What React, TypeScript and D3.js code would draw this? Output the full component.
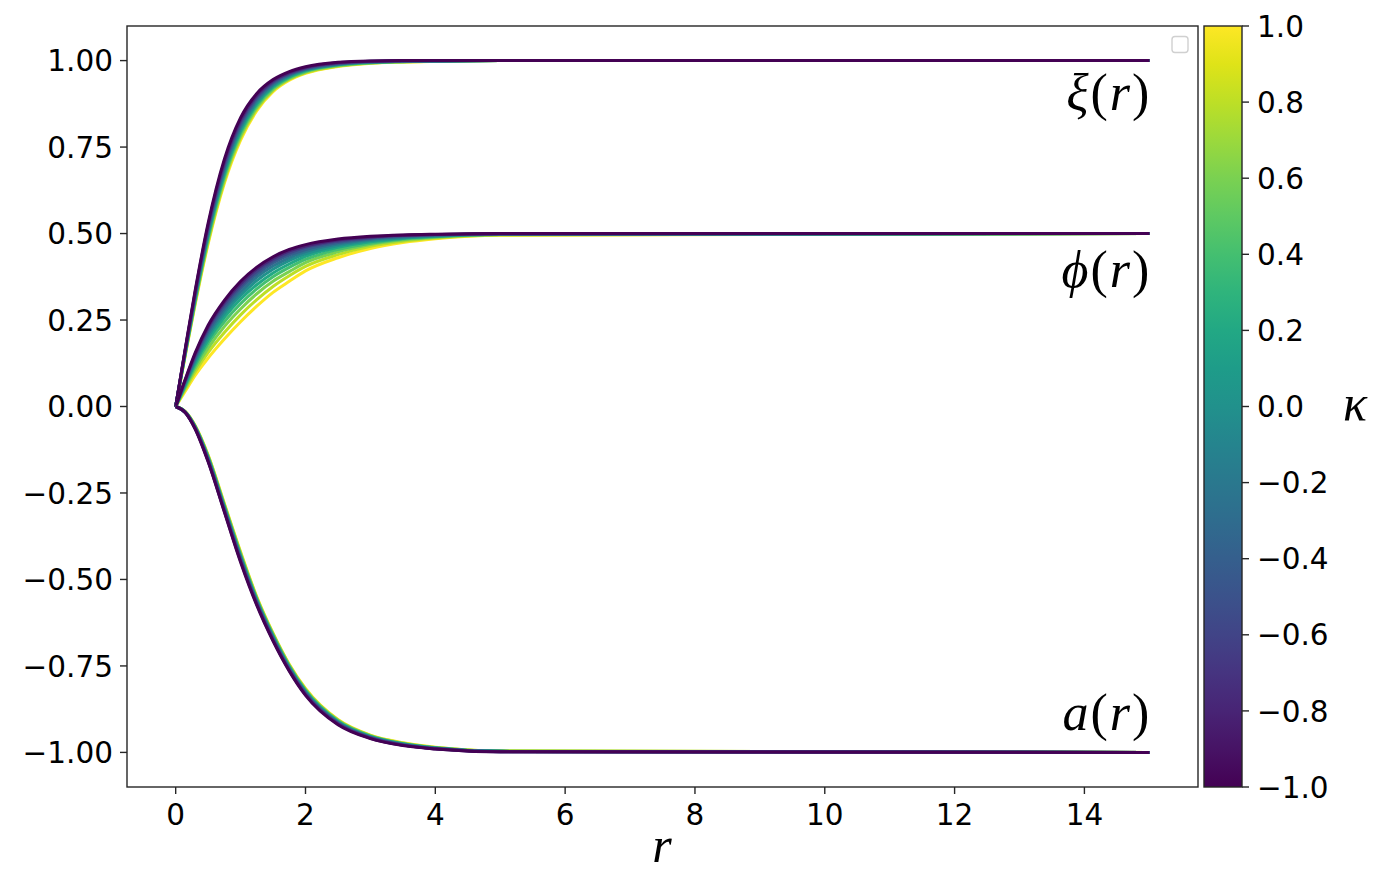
import React, { useEffect, useRef } from "react";
import * as d3 from "d3";

// sample points in r (same for every curve)
const rValues = [0, 0.15, 0.3, 0.5, 0.75, 1, 1.25, 1.5, 1.75, 2, 2.5, 3, 3.5, 4, 5, 15];

// one curve per kappa
const kappaValues = [-1, -0.8, -0.6, -0.4, -0.2, 0, 0.2, 0.4, 0.6, 0.8, 1];

// xi(r), rows follow kappaValues
const xiCurves = [
  [0, 0.17, 0.335, 0.53, 0.715, 0.835, 0.905, 0.945, 0.968, 0.982, 0.995, 0.999, 1.0, 1.0, 1, 1],
  [0, 0.168, 0.331, 0.524, 0.708, 0.829, 0.9, 0.942, 0.965, 0.98, 0.994, 0.998, 1.0, 1.0, 1, 1],
  [0, 0.166, 0.327, 0.518, 0.701, 0.822, 0.895, 0.938, 0.963, 0.978, 0.992, 0.998, 0.999, 1.0, 1, 1],
  [0, 0.164, 0.323, 0.512, 0.694, 0.816, 0.89, 0.935, 0.96, 0.976, 0.991, 0.997, 0.999, 0.999, 1, 1],
  [0, 0.162, 0.319, 0.506, 0.687, 0.809, 0.885, 0.931, 0.958, 0.974, 0.99, 0.996, 0.998, 0.999, 1, 1],
  [0, 0.16, 0.315, 0.5, 0.68, 0.803, 0.88, 0.928, 0.956, 0.973, 0.989, 0.996, 0.998, 0.999, 1, 1],
  [0, 0.158, 0.311, 0.494, 0.673, 0.796, 0.875, 0.924, 0.953, 0.971, 0.988, 0.995, 0.998, 0.999, 1, 1],
  [0, 0.156, 0.307, 0.488, 0.666, 0.79, 0.87, 0.921, 0.951, 0.969, 0.987, 0.994, 0.997, 0.999, 1, 1],
  [0, 0.154, 0.303, 0.482, 0.659, 0.783, 0.865, 0.917, 0.948, 0.967, 0.985, 0.993, 0.997, 0.998, 1, 1],
  [0, 0.152, 0.299, 0.476, 0.652, 0.777, 0.86, 0.914, 0.946, 0.965, 0.984, 0.993, 0.996, 0.998, 1, 1],
  [0, 0.15, 0.295, 0.47, 0.645, 0.77, 0.855, 0.91, 0.943, 0.963, 0.983, 0.992, 0.996, 0.998, 1, 1],
];

// phi(r)
const phiCurves = [
  [0, 0.08, 0.155, 0.235, 0.307, 0.362, 0.403, 0.433, 0.454, 0.468, 0.484, 0.492, 0.496, 0.498, 0.5, 0.5],
  [0, 0.078, 0.151, 0.23, 0.302, 0.356, 0.398, 0.428, 0.45, 0.464, 0.481, 0.49, 0.495, 0.497, 0.5, 0.5],
  [0, 0.076, 0.147, 0.225, 0.295, 0.349, 0.391, 0.422, 0.444, 0.46, 0.478, 0.488, 0.494, 0.497, 0.499, 0.5],
  [0, 0.074, 0.142, 0.218, 0.287, 0.341, 0.383, 0.415, 0.438, 0.454, 0.474, 0.486, 0.492, 0.496, 0.499, 0.5],
  [0, 0.071, 0.137, 0.21, 0.279, 0.331, 0.374, 0.406, 0.43, 0.448, 0.47, 0.483, 0.49, 0.495, 0.499, 0.5],
  [0, 0.068, 0.131, 0.202, 0.269, 0.321, 0.364, 0.397, 0.422, 0.441, 0.465, 0.48, 0.488, 0.493, 0.498, 0.5],
  [0, 0.064, 0.125, 0.192, 0.258, 0.31, 0.352, 0.386, 0.412, 0.434, 0.46, 0.476, 0.486, 0.492, 0.498, 0.5],
  [0, 0.06, 0.118, 0.182, 0.245, 0.297, 0.34, 0.375, 0.402, 0.425, 0.454, 0.472, 0.484, 0.491, 0.497, 0.5],
  [0, 0.056, 0.109, 0.169, 0.231, 0.282, 0.326, 0.362, 0.39, 0.416, 0.447, 0.468, 0.481, 0.489, 0.497, 0.5],
  [0, 0.051, 0.1, 0.156, 0.214, 0.265, 0.309, 0.347, 0.378, 0.405, 0.439, 0.463, 0.478, 0.487, 0.496, 0.5],
  [0, 0.045, 0.09, 0.14, 0.195, 0.245, 0.29, 0.33, 0.362, 0.392, 0.43, 0.457, 0.474, 0.485, 0.495, 0.5],
];

// a(r)
const aCurves = [
  [0, -0.018, -0.065, -0.16, -0.305, -0.45, -0.575, -0.678, -0.765, -0.835, -0.92, -0.96, -0.98, -0.99, -0.998, -1],
  [0, -0.018, -0.064, -0.158, -0.303, -0.447, -0.572, -0.676, -0.763, -0.833, -0.918, -0.959, -0.979, -0.99, -0.998, -1],
  [0, -0.018, -0.063, -0.156, -0.3, -0.444, -0.57, -0.673, -0.761, -0.831, -0.917, -0.958, -0.979, -0.989, -0.998, -1],
  [0, -0.017, -0.062, -0.154, -0.298, -0.441, -0.567, -0.671, -0.759, -0.829, -0.915, -0.957, -0.978, -0.989, -0.998, -1],
  [0, -0.017, -0.061, -0.152, -0.295, -0.438, -0.565, -0.668, -0.757, -0.827, -0.914, -0.956, -0.977, -0.988, -0.997, -1],
  [0, -0.017, -0.06, -0.15, -0.293, -0.435, -0.562, -0.666, -0.755, -0.825, -0.912, -0.955, -0.976, -0.988, -0.997, -1],
  [0, -0.016, -0.059, -0.148, -0.29, -0.432, -0.56, -0.664, -0.753, -0.823, -0.911, -0.954, -0.975, -0.987, -0.997, -1],
  [0, -0.016, -0.058, -0.146, -0.288, -0.429, -0.557, -0.662, -0.751, -0.821, -0.909, -0.953, -0.975, -0.987, -0.997, -1],
  [0, -0.016, -0.057, -0.144, -0.285, -0.426, -0.555, -0.659, -0.749, -0.819, -0.908, -0.952, -0.974, -0.986, -0.996, -1],
  [0, -0.015, -0.056, -0.142, -0.283, -0.423, -0.552, -0.657, -0.747, -0.817, -0.906, -0.951, -0.973, -0.986, -0.996, -1],
  [0, -0.015, -0.055, -0.14, -0.28, -0.42, -0.55, -0.655, -0.745, -0.815, -0.905, -0.95, -0.972, -0.985, -0.996, -1],
];

const xTicks = [0, 2, 4, 6, 8, 10, 12, 14];
const yTicks = [-1, -0.75, -0.5, -0.25, 0, 0.25, 0.5, 0.75, 1];
const cbTicks = [-1, -0.8, -0.6, -0.4, -0.2, 0, 0.2, 0.4, 0.6, 0.8, 1];

const WIDTH = 1380;
const HEIGHT = 895;
const TICK_FONT = "'DejaVu Sans', sans-serif";
const MATH_FONT = "'Liberation Serif', 'DejaVu Serif', serif";

export default function App() {
  const svgRef = useRef<SVGSVGElement>(null);

  useEffect(() => {
    if (!svgRef.current) return;
    const svg = d3.select(svgRef.current);
    svg.selectAll("*").remove();

    const plot = { left: 127, top: 26, right: 1198, bottom: 787 };
    const cb = { left: 1204, right: 1242 };

    const x = d3.scaleLinear().domain([-0.75, 15.75]).range([plot.left, plot.right]);
    const y = d3.scaleLinear().domain([-1.1, 1.1]).range([plot.bottom, plot.top]);
    const cbY = d3.scaleLinear().domain([-1, 1]).range([plot.bottom, plot.top]);
    const color = (k: number) => d3.interpolateViridis((k + 1) / 2);

    const line = d3
      .line<number>()
      .x((_, i) => x(rValues[i]))
      .y((d) => y(d))
      .curve(d3.curveMonotoneX);

    const defs = svg.append("defs");
    defs
      .append("clipPath")
      .attr("id", "plotClip")
      .append("rect")
      .attr("x", plot.left)
      .attr("y", plot.top)
      .attr("width", plot.right - plot.left)
      .attr("height", plot.bottom - plot.top);

    // curves: yellow first, purple last (on top)
    const lines = svg.append("g").attr("clip-path", "url(#plotClip)");
    const order = d3.range(kappaValues.length).reverse();
    [xiCurves, phiCurves, aCurves].forEach((set) => {
      order.forEach((i) => {
        lines
          .append("path")
          .attr("d", line(set[i]))
          .attr("fill", "none")
          .attr("stroke", color(kappaValues[i]))
          .attr("stroke-width", 3)
          .attr("stroke-linejoin", "round");
      });
    });

    // frame
    svg
      .append("rect")
      .attr("x", plot.left)
      .attr("y", plot.top)
      .attr("width", plot.right - plot.left)
      .attr("height", plot.bottom - plot.top)
      .attr("fill", "none")
      .attr("stroke", "#262626")
      .attr("stroke-width", 1.4);

    // empty legend box
    svg
      .append("rect")
      .attr("x", 1172)
      .attr("y", 36.5)
      .attr("width", 16)
      .attr("height", 16)
      .attr("rx", 3)
      .attr("fill", "white")
      .attr("stroke", "#d0d0d0")
      .attr("stroke-width", 1.4);

    // x axis
    const xAxis = svg.append("g").attr("font-family", TICK_FONT).attr("font-size", 29.5);
    xTicks.forEach((t) => {
      xAxis
        .append("line")
        .attr("x1", x(t))
        .attr("x2", x(t))
        .attr("y1", plot.bottom)
        .attr("y2", plot.bottom + 7)
        .attr("stroke", "#262626")
        .attr("stroke-width", 1.4);
      xAxis
        .append("text")
        .attr("x", x(t))
        .attr("y", 825)
        .attr("text-anchor", "middle")
        .attr("fill", "#000")
        .text(d3.format("d")(t));
    });

    // y axis
    const yAxis = svg.append("g").attr("font-family", TICK_FONT).attr("font-size", 29.5);
    const yFmt = d3.format(".2f");
    yTicks.forEach((t) => {
      yAxis
        .append("line")
        .attr("x1", plot.left - 7)
        .attr("x2", plot.left)
        .attr("y1", y(t))
        .attr("y2", y(t))
        .attr("stroke", "#262626")
        .attr("stroke-width", 1.4);
      yAxis
        .append("text")
        .attr("x", plot.left - 14)
        .attr("y", y(t))
        .attr("dy", "0.36em")
        .attr("text-anchor", "end")
        .attr("fill", "#000")
        .text(yFmt(t));
    });

    // colorbar
    const grad = defs
      .append("linearGradient")
      .attr("id", "viridisBar")
      .attr("x1", 0)
      .attr("y1", 1)
      .attr("x2", 0)
      .attr("y2", 0);
    d3.range(0, 1.0001, 0.05).forEach((s) => {
      grad
        .append("stop")
        .attr("offset", `${s * 100}%`)
        .attr("stop-color", d3.interpolateViridis(s));
    });
    svg
      .append("rect")
      .attr("x", cb.left)
      .attr("y", plot.top)
      .attr("width", cb.right - cb.left)
      .attr("height", plot.bottom - plot.top)
      .attr("fill", "url(#viridisBar)")
      .attr("stroke", "#262626")
      .attr("stroke-width", 1.4);

    const cbAxis = svg.append("g").attr("font-family", TICK_FONT).attr("font-size", 29.5);
    const cbFmt = d3.format(".1f");
    cbTicks.forEach((t) => {
      cbAxis
        .append("line")
        .attr("x1", cb.right)
        .attr("x2", cb.right + 7)
        .attr("y1", cbY(t))
        .attr("y2", cbY(t))
        .attr("stroke", "#262626")
        .attr("stroke-width", 1.4);
      cbAxis
        .append("text")
        .attr("x", cb.right + 15)
        .attr("y", cbY(t))
        .attr("dy", "0.36em")
        .attr("fill", "#000")
        .text(cbFmt(t));
    });

    // math labels
    const mathText = (px: number, py: number, anchor: string, size = 52) =>
      svg
        .append("text")
        .attr("x", px)
        .attr("y", py)
        .attr("text-anchor", anchor)
        .attr("font-family", MATH_FONT)
        .attr("font-size", size)
        .attr("fill", "#000");

    const fnLabel = (sym: string, val: number) => {
      const t = mathText(x(15) + 2, y(val), "end").attr("letter-spacing", 2);
      t.append("tspan").attr("font-style", "italic").text(sym);
      t.append("tspan").text("(");
      t.append("tspan").attr("font-style", "italic").text("r");
      t.append("tspan").text(")");
    };
    fnLabel("ξ", 0.857);
    fnLabel("ϕ", 0.346);
    fnLabel("a", -0.935);

    mathText(662, 862, "middle", 50).attr("font-style", "italic").text("r");
    mathText(1355, 420, "middle", 50).attr("font-style", "italic").text("κ");
  }, []);

  return (
    <svg
      ref={svgRef}
      width={WIDTH}
      height={HEIGHT}
      style={{ position: "absolute", left: 0, top: 0, background: "white" }}
    />
  );
}
